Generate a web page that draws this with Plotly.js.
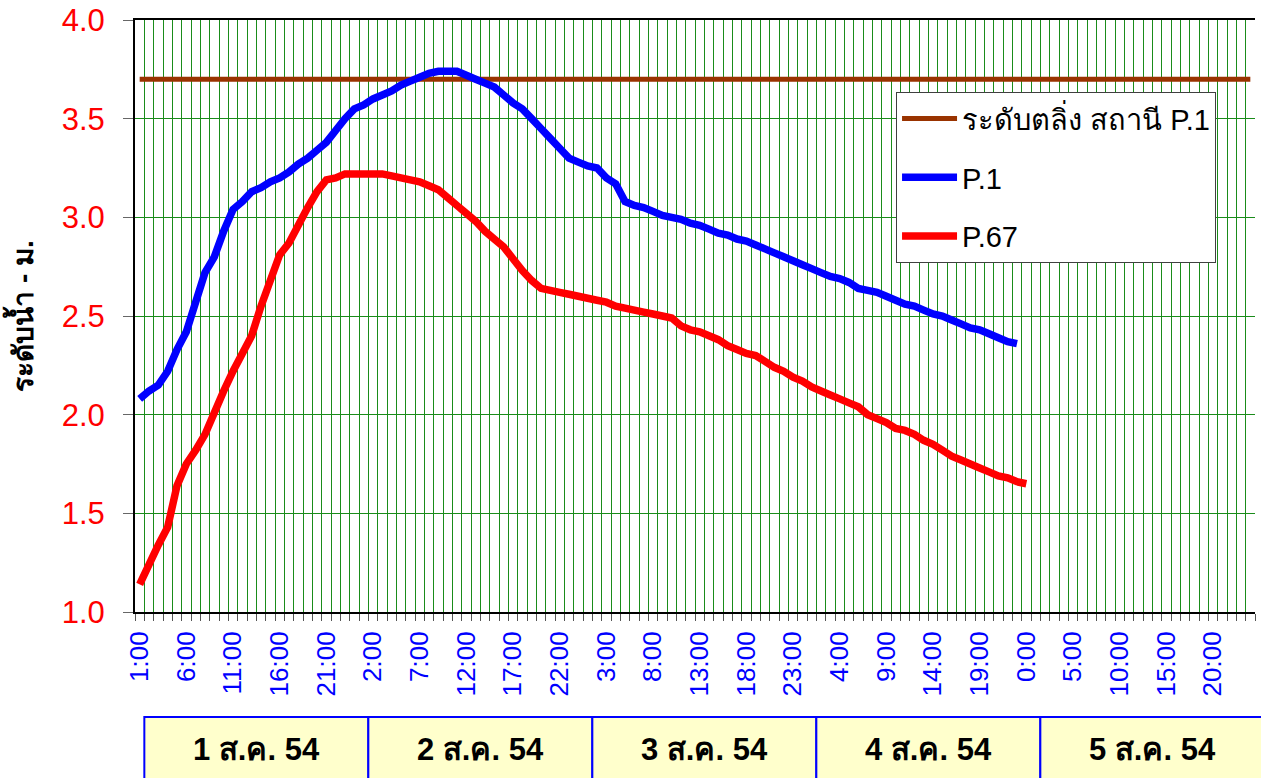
<!DOCTYPE html>
<html>
<head>
<meta charset="utf-8">
<script src="https://cdn.plot.ly/plotly-3.0.1.min.js"></script>
<style>html,body{margin:0;padding:0;background:#fff;}#chart{width:1261px;height:778px;}</style>
</head>
<body>
<div id="chart"></div>
<script>
// hourly series, index 0 = 1:00 of 1 ส.ค. 54
const p1 = [
  2.08,2.12,2.15,2.22,2.33,2.42,2.57,2.72,2.80,2.93,
  3.04,3.08,3.13,3.15,3.18,3.20,3.23,3.27,3.30,3.34,
  3.38,3.44,3.50,3.55,3.57,3.60,3.62,3.64,3.67,3.69,
  3.71,3.73,3.74,3.74,3.74,3.72,3.70,3.68,3.66,3.62,
  3.58,3.55,3.50,3.45,3.40,3.35,3.30,3.28,3.26,3.25,
  3.20,3.17,3.08,3.06,3.05,3.03,3.01,3.00,2.99,2.97,
  2.96,2.94,2.92,2.91,2.89,2.88,2.86,2.84,2.82,2.80,
  2.78,2.76,2.74,2.72,2.70,2.69,2.67,2.64,2.63,2.62,
  2.60,2.58,2.56,2.55,2.53,2.51,2.50,2.48,2.46,2.44,
  2.43,2.41,2.39,2.37,2.36
];
const p67 = [
  1.14,1.24,1.34,1.43,1.64,1.75,1.82,1.90,2.01,2.12,
  2.22,2.31,2.40,2.55,2.68,2.81,2.87,2.96,3.05,3.13,
  3.19,3.20,3.22,3.22,3.22,3.22,3.22,3.21,3.20,3.19,
  3.18,3.16,3.14,3.10,3.06,3.02,2.98,2.93,2.89,2.85,
  2.79,2.73,2.68,2.64,2.63,2.62,2.61,2.60,2.59,2.58,
  2.57,2.55,2.54,2.53,2.52,2.51,2.50,2.49,2.45,2.43,
  2.42,2.40,2.38,2.35,2.33,2.31,2.30,2.27,2.24,2.22,
  2.19,2.17,2.14,2.12,2.10,2.08,2.06,2.04,2.00,1.98,
  1.96,1.93,1.92,1.90,1.87,1.85,1.82,1.79,1.77,1.75,
  1.73,1.71,1.69,1.68,1.66,1.65
];
const bankLevel = 3.70;          // ระดับตลิ่ง สถานี P.1
const totalHours = 120;          // 5 days of hourly slots
const tickLabels = ["1:00","6:00","11:00","16:00","21:00","2:00","7:00","12:00","17:00","22:00",
  "3:00","8:00","13:00","18:00","23:00","4:00","9:00","14:00","19:00","0:00","5:00","10:00","15:00","20:00"];
const tickStep = 5;
const days = ["1 ส.ค. 54","2 ส.ค. 54","3 ส.ค. 54","4 ส.ค. 54","5 ส.ค. 54"];
const hoursPerDay = 24;

const idx = n => Array.from({length:n}, (_, i) => i);
const FONT = 'Arial, "Liberation Sans", "Noto Sans", sans-serif';

const traces = [
  {x:[0, totalHours-1], y:[bankLevel, bankLevel], type:'scatter', mode:'lines', name:'ระดับตลิ่ง สถานี P.1',
   line:{color:'#993300', width:5}, legendgroup:'a'},
  {x:idx(p1.length), y:p1, type:'scatter', mode:'lines', name:'P.1',
   line:{color:'#0000FF', width:7.5, simplify:false}, legendgroup:'b'},
  {x:idx(p67.length), y:p67, type:'scatter', mode:'lines', name:'P.67',
   line:{color:'#FF0000', width:7.5, simplify:false}, legendgroup:'c'}
];

const shapes = [], annotations = [];
days.forEach((d, k) => {
  const x0 = (1 + k*hoursPerDay) / totalHours, x1 = (1 + (k+1)*hoursPerDay) / totalHours;
  shapes.push({type:'rect', xref:'paper', yref:'paper', x0:x0, x1:x1, y0:-0.1774, y1:-0.40,
    fillcolor:'#FFFFCC', line:{color:'#0000FF', width:2}, layer:'below'});
  annotations.push({xref:'paper', yref:'paper', x:(x0+x1)/2, y:-0.233, text:'<b>'+d+'</b>',
    showarrow:false, font:{family:FONT, size:31, color:'#000'}, xanchor:'center', yanchor:'middle'});
});

const layout = {
  width:1261, height:778,
  margin:{l:135, r:6, t:20, b:166},
  paper_bgcolor:'#fff', plot_bgcolor:'#fff',
  font:{family:FONT},
  showlegend:true,
  xaxis:{
    range:[-0.5, totalHours-0.5],
    tickmode:'array',
    tickvals:tickLabels.map((_, i) => i*tickStep),
    ticktext:tickLabels,
    tickangle:-90,
    tickfont:{family:FONT, size:26, color:'#0000FF'},
    ticks:'', showgrid:false, zeroline:false,
    showline:true, linecolor:'#000', linewidth:2, mirror:true,
    ticklabelstandoff:7,
    minor:{tickmode:'linear', tick0:-0.5, dtick:1, ticks:'outside', ticklen:7, tickcolor:'#555',
      showgrid:true, gridcolor:'#1a8c1a', gridwidth:1}
  },
  yaxis:{
    range:[1, 4], tick0:1, dtick:0.5, tickformat:'.1f',
    tickfont:{family:FONT, size:31, color:'#FF0000'},
    ticks:'outside', ticklen:10, tickcolor:'#666',
    ticklabelstandoff:12,
    showgrid:true, gridcolor:'#1a8c1a', gridwidth:1, zeroline:false,
    showline:true, linecolor:'#000', linewidth:2,
    title:{text:'<b>ระดับน้ำ - ม.</b>', font:{family:FONT, size:28, color:'#000'}, standoff:20}
  },
  legend:{
    x:0.6795, y:0.878, xanchor:'left', yanchor:'top',
    bgcolor:'#fff', bordercolor:'#404040', borderwidth:1,
    font:{family:FONT, size:29, color:'#000'},
    traceorder:'grouped', tracegroupgap:18, itemwidth:55
  },
  shapes:shapes,
  annotations:annotations
};

Plotly.newPlot('chart', traces, layout, {displayModeBar:false, staticPlot:true});
</script>
</body>
</html>
